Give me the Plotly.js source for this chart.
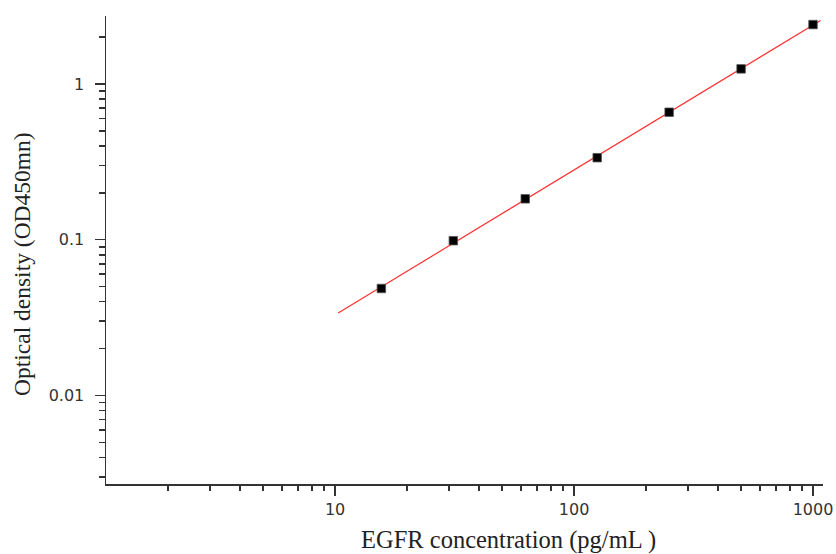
<!DOCTYPE html>
<html>
<head>
<meta charset="utf-8">
<script src="https://cdn.plot.ly/plotly-3.0.1.min.js"></script>
<style>html,body{margin:0;padding:0;background:#fff;}#chart{width:836px;height:554px;}</style>
</head>
<body>
<div id="chart"></div>
<script>
// Standard curve data (EGFR ELISA)
const concentration = [15.625, 31.25, 62.5, 125, 250, 500, 1000];   // pg/mL
const opticalDensity = [0.0486, 0.0985, 0.183, 0.336, 0.658, 1.249, 2.405]; // OD450
const fitRange = [10.3, 1075];
const xTickVals = [10, 100, 1000];
const xTickText = ['10', '100', '1000'];
const yTickVals = [0.01, 0.1, 1];
const yTickText = ['0.01', '0.1', '1'];
const xTitle = 'EGFR concentration (pg/mL )';
const yTitle = 'Optical density (OD450mn)';

// log-log linear regression for the fitted line
const lx = concentration.map(Math.log10), ly = opticalDensity.map(Math.log10);
const n = lx.length;
const mx = lx.reduce((a, b) => a + b, 0) / n, my = ly.reduce((a, b) => a + b, 0) / n;
let sxy = 0, sxx = 0;
for (let i = 0; i < n; i++) { sxy += (lx[i] - mx) * (ly[i] - my); sxx += (lx[i] - mx) ** 2; }
const slope = sxy / sxx, icpt = my - slope * mx;
const fitY = fitRange.map(x => Math.pow(10, icpt + slope * Math.log10(x)));

function minorVals(lo, hi) {
  const v = [];
  for (let e = lo; e <= hi; e++) for (let d = 2; d <= 9; d++) v.push(d * Math.pow(10, e));
  return v;
}

const traces = [
  { x: fitRange, y: fitY, mode: 'lines', line: { color: '#ff3030', width: 1.2 }, hoverinfo: 'skip' },
  { x: concentration, y: opticalDensity, mode: 'markers',
    marker: { symbol: 'square', size: 8.5, color: '#000', line: { color: '#555', width: 0.8 } } }
];

const axisCommon = {
  type: 'log', showgrid: false, zeroline: false, showline: true, linecolor: '#333', linewidth: 1.5,
  ticks: 'outside', ticklen: 10, tickwidth: 1.5, tickcolor: '#333', mirror: false,
  tickfont: { family: 'DejaVu Sans, sans-serif', size: 16, color: '#333' }
};

const layout = {
  width: 836, height: 554,
  margin: { l: 106, r: 13, t: 16, b: 70 },
  paper_bgcolor: '#fff', plot_bgcolor: '#fff',
  showlegend: false,
  xaxis: Object.assign({}, axisCommon, {
    range: [Math.log10(1.1), Math.log10(1101)],
    tickmode: 'array', tickvals: xTickVals, ticktext: xTickText,
    ticklabelstandoff: 0,
    minor: { tickmode: 'array', tickvals: minorVals(0, 2), ticks: 'outside', ticklen: 5, tickwidth: 1.5, tickcolor: '#333' }
  }),
  yaxis: Object.assign({}, axisCommon, {
    range: [Math.log10(0.0027), Math.log10(2.73)],
    tickmode: 'array', tickvals: yTickVals, ticktext: yTickText,
    ticklabelstandoff: 7,
    minor: { tickmode: 'array', tickvals: minorVals(-3, 0), ticks: 'outside', ticklen: 6, tickwidth: 1.5, tickcolor: '#333' }
  }),
  annotations: [
    { text: xTitle, xref: 'paper', yref: 'paper', x: (508 - 106) / 717, y: -(540 - 484) / 468,
      xanchor: 'center', yanchor: 'middle', showarrow: false,
      font: { family: 'Liberation Serif, Times New Roman, serif', size: 24.5, color: '#222' } },
    { text: yTitle, xref: 'paper', yref: 'paper', x: -(106 - 22) / 717, y: (484 - 264) / 468,
      xanchor: 'center', yanchor: 'middle', showarrow: false, textangle: -90,
      font: { family: 'Liberation Serif, Times New Roman, serif', size: 23.5, color: '#222' } }
  ]
};

Plotly.newPlot('chart', traces, layout, { staticPlot: true, displayModeBar: false });
</script>
</body>
</html>
